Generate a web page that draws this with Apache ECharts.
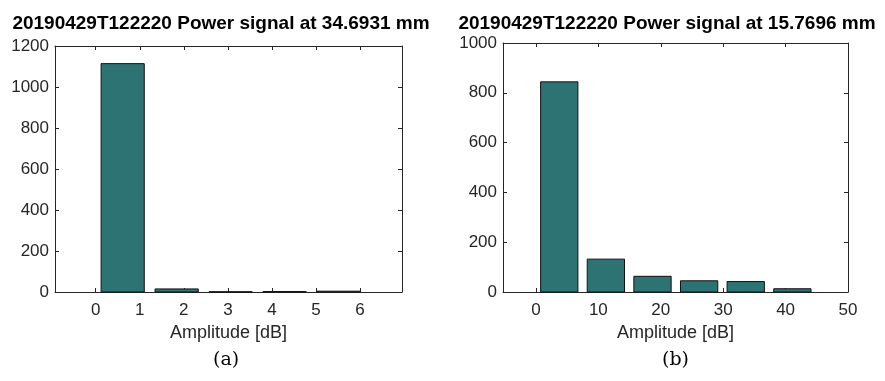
<!DOCTYPE html>
<html>
<head>
<meta charset="utf-8">
<script src="https://cdn.jsdelivr.net/npm/echarts@6/dist/echarts.min.js"></script>
<style>
  html, body { margin: 0; padding: 0; background: #fff; }
  #chart { width: 885px; height: 381px; }
</style>
</head>
<body>
<div id="chart"></div>
<script>
// Histogram of power signal amplitude, two positions
const titleA = '20190429T122220 Power signal at 34.6931 mm';
const titleB = '20190429T122220 Power signal at 15.7696 mm';
const xLabel = 'Amplitude [dB]';
const captionA = '(a)';
const captionB = '(b)';

// bin edges (dB) and counts per bin
const edgesA = [0, 1.225, 2.45, 3.675, 4.9, 6.125];
const countsA = [1114, 15, 1, 2, 4];
const edgesB = [0, 7.47, 14.94, 22.41, 29.88, 37.35, 44.82];
const countsB = [844, 132, 63, 45, 42, 13];

// tick positions
const xTicksA = [0, 1, 2, 3, 4, 5, 6];
const xTicksB = [0, 10, 20, 30, 40, 50];
const yTicksA = [0, 200, 400, 600, 800, 1000, 1200];
const yTicksB = [0, 200, 400, 600, 800, 1000];

const BAR_FRAC = 0.8;   // bar width as a fraction of bin width
const FONT = '"Liberation Sans", Arial, Helvetica, sans-serif';
const SERIF = '"DejaVu Serif", "Liberation Serif", serif';
const AXIS = '#262626';

function binData(edges, counts) {
  return counts.map((c, i) => [edges[i], edges[i + 1], c]);
}

function renderBin(params, api) {
  const x0 = api.value(0), x1 = api.value(1), v = api.value(2);
  const mid = (x0 + x1) / 2, half = (x1 - x0) * BAR_FRAC / 2;
  const p0 = api.coord([mid - half, 0]);
  const p1 = api.coord([mid + half, v]);
  return {
    type: 'rect',
    shape: { x: p0[0], y: p1[1], width: p1[0] - p0[0], height: p0[1] - p1[1] },
    style: { fill: '#2e7373', stroke: '#111', lineWidth: 1 }
  };
}

function plain(v) { return String(v); }

function xAxes(gridIndex, min, max, ticks) {
  const common = {
    type: 'value', gridIndex, min, max,
    axisLine: { show: true, onZero: false, lineStyle: { color: AXIS, width: 1 } },
    axisTick: { show: true, inside: true, length: 4, customValues: ticks, lineStyle: { color: AXIS } },
    splitLine: { show: false }
  };
  return [
    Object.assign({}, common, {
      position: 'bottom',
      axisLabel: { color: AXIS, fontFamily: FONT, fontSize: 17, margin: 10,
        customValues: ticks, formatter: plain },
      name: xLabel, nameLocation: 'middle', nameGap: 23,
      nameTextStyle: { color: AXIS, fontFamily: FONT, fontSize: 18 }
    }),
    Object.assign({}, common, { position: 'top', axisLabel: { show: false } })
  ];
}

function yAxes(gridIndex, max, ticks) {
  const common = {
    type: 'value', gridIndex, min: 0, max,
    axisLine: { show: true, onZero: false, lineStyle: { color: AXIS, width: 1 } },
    axisTick: { show: true, inside: true, length: 4, customValues: ticks, lineStyle: { color: AXIS } },
    splitLine: { show: false }
  };
  return [
    Object.assign({}, common, {
      position: 'left',
      axisLabel: { color: AXIS, fontFamily: FONT, fontSize: 17, margin: 6,
        customValues: ticks, formatter: plain }
    }),
    Object.assign({}, common, { position: 'right', axisLabel: { show: false } })
  ];
}

const chart = echarts.init(document.getElementById('chart'), null, { renderer: 'canvas' });

chart.setOption({
  animation: false,
  backgroundColor: '#fff',
  title: [
    { text: titleA, left: 216, top: 9, textAlign: 'center',
      textStyle: { fontFamily: FONT, fontSize: 19, fontWeight: 'bold', color: '#000' } },
    { text: titleB, left: 662, top: 9, textAlign: 'center',
      textStyle: { fontFamily: FONT, fontSize: 19, fontWeight: 'bold', color: '#000' } }
  ],
  grid: [
    { left: 55, top: 46, width: 347, height: 246 },
    { left: 503, top: 43, width: 345, height: 249 }
  ],
  xAxis: [].concat(xAxes(0, -0.924, 6.953, xTicksA), xAxes(1, -5.28, 50, xTicksB)),
  yAxis: [].concat(yAxes(0, 1200, yTicksA), yAxes(1, 1000, yTicksB)),
  series: [
    { type: 'custom', xAxisIndex: 0, yAxisIndex: 0, renderItem: renderBin,
      encode: { x: [0, 1], y: 2 }, data: binData(edgesA, countsA) },
    { type: 'custom', xAxisIndex: 2, yAxisIndex: 2, renderItem: renderBin,
      encode: { x: [0, 1], y: 2 }, data: binData(edgesB, countsB) }
  ],
  graphic: [
    { type: 'text', left: 213, top: 351,
      style: { text: captionA, fontFamily: SERIF, fontSize: 19, fill: '#000' } },
    { type: 'text', left: 662, top: 351,
      style: { text: captionB, fontFamily: SERIF, fontSize: 19, fill: '#000' } }
  ]
});
</script>
</body>
</html>
